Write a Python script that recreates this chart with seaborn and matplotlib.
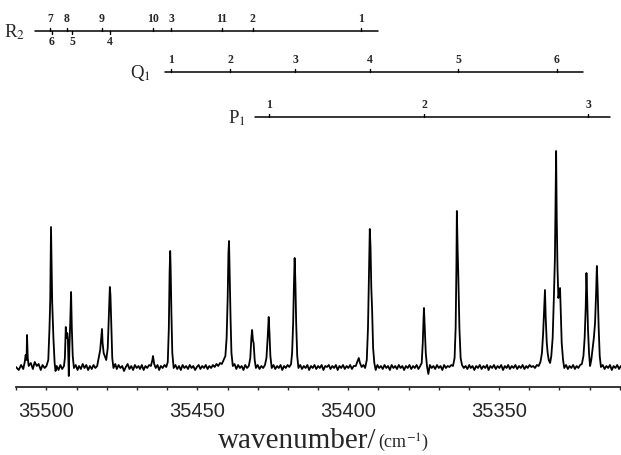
import matplotlib
matplotlib.use('Agg')
import matplotlib.pyplot as plt
from matplotlib.ticker import FixedLocator, MultipleLocator
import pandas as pd
import seaborn as sns

# spectrum trace (wavenumber / cm-1, signal in arbitrary units)
wn = [35510.1, 35509.2, 35508.4, 35507.7,
      35507.2, 35506.9, 35506.6, 35506.45, 35506.2, 35505.9,
      35505.2, 35504.5, 35503.9, 35503.2, 35502.6, 35501.9, 35501.3, 35500.6, 35500.0,
      35499.4, 35499.0, 35498.75, 35498.5, 35498.3, 35498.1, 35497.7, 35497.3, 35497.0,
      35496.6, 35496.0, 35495.4, 35494.8, 35494.2,
      35493.9, 35493.6, 35493.4, 35493.1, 35492.9, 35492.6, 35492.4, 35492.1, 35491.85, 35491.6, 35491.3, 35490.9,
      35490.3, 35489.7, 35489.2, 35488.6, 35488.0, 35487.4, 35486.8, 35486.2, 35485.6, 35485.0, 35484.4, 35483.8, 35483.2,
      35482.7, 35482.2, 35481.9, 35481.6, 35481.4, 35481.05, 35480.7, 35480.2, 35479.7, 35479.3, 35479.0, 35478.8, 35478.5, 35478.2, 35477.8,
      35477.2, 35476.7, 35476.1, 35475.5, 35474.9, 35474.3, 35473.7, 35473.1, 35472.5, 35471.9, 35471.3, 35470.7, 35470.1,
      35469.5, 35469.0, 35468.4, 35467.8, 35467.2, 35466.6, 35466.0, 35465.4, 35464.9, 35464.7, 35464.3,
      35463.8, 35463.2, 35462.65, 35462.1, 35461.5, 35460.9, 35460.3,
      35459.8, 35459.45, 35459.2, 35459.0, 35458.85, 35458.6, 35458.3, 35457.85,
      35457.25, 35456.66, 35456.07, 35455.48, 35454.89, 35454.3, 35453.7, 35453.11, 35452.52, 35451.93, 35451.34, 35450.75, 35450.16,
      35449.57, 35448.98, 35448.39, 35447.8, 35447.21, 35446.61, 35446.02, 35445.43, 35444.84, 35444.25, 35443.66, 35443.07, 35442.48,
      35441.89, 35441.3, 35440.71,
      35440.3, 35439.95, 35439.7, 35439.5, 35439.3, 35439.0, 35438.7, 35438.25,
      35437.67, 35437.08, 35436.49, 35435.9, 35435.31, 35434.72, 35434.13, 35433.54, 35432.95,
      35432.45, 35432.1, 35431.85, 35431.6, 35431.35, 35431.0, 35430.6,
      35430.0, 35429.4, 35428.8, 35428.2, 35427.6,
      35427.1, 35426.7, 35426.35, 35426.1, 35425.8, 35425.35,
      35424.76, 35424.18, 35423.6, 35423.01, 35422.43, 35421.85, 35421.27, 35420.69, 35420.1, 35419.52, 35418.94,
      35418.6, 35418.25, 35418.0, 35417.75, 35417.5, 35417.25, 35416.9, 35416.5,
      35415.9, 35415.31, 35414.72, 35414.13, 35413.54, 35412.95, 35412.36, 35411.77, 35411.18, 35410.59, 35410.0, 35409.41, 35408.81,
      35408.22, 35407.63, 35407.04, 35406.45, 35405.86, 35405.27, 35404.68, 35404.09, 35403.5, 35402.91, 35402.32, 35401.73, 35401.14,
      35400.54, 35399.95, 35399.36, 35398.77, 35398.18,
      35397.5, 35396.9, 35396.5, 35396.1, 35395.55, 35394.95, 35394.4,
      35393.85, 35393.45, 35393.1, 35392.85, 35392.6, 35392.35, 35392.1, 35391.75, 35391.35, 35390.9,
      35390.33, 35389.74, 35389.15, 35388.56, 35387.97, 35387.38, 35386.79, 35386.2, 35385.61, 35385.02, 35384.43, 35383.84, 35383.24,
      35382.65, 35382.06, 35381.47, 35380.88, 35380.29, 35379.7, 35379.11, 35378.52, 35377.93, 35377.34, 35376.74, 35376.15,
      35375.65, 35375.3, 35375.05, 35374.9, 35374.65, 35374.3, 35373.9, 35373.45,
      35372.95, 35372.36, 35371.77, 35371.18, 35370.59, 35370.0, 35369.41, 35368.81, 35368.22, 35367.63, 35367.04, 35366.45, 35365.86, 35365.27,
      35364.75, 35364.4, 35364.15, 35364.0, 35363.75, 35363.5, 35363.15, 35362.75, 35362.3,
      35361.7, 35361.1, 35360.5, 35359.9, 35359.4, 35358.8, 35358.2, 35357.6, 35357.0, 35356.4, 35355.8, 35355.2, 35354.6,
      35354.0, 35353.5, 35352.9, 35352.3, 35351.7, 35351.1, 35350.5, 35349.9, 35349.3, 35348.7, 35348.1, 35347.5, 35347.0,
      35346.4, 35345.8, 35345.2, 35344.6, 35344.0, 35343.4, 35342.8, 35342.2, 35341.6, 35341.0, 35340.5, 35339.9, 35339.3,
      35338.7, 35338.1, 35337.5, 35336.9, 35336.3,
      35335.8, 35335.4, 35335.05, 35334.8, 35334.55, 35334.2, 35333.9, 35333.55, 35333.1, 35332.7,
      35332.25, 35331.85, 35331.5, 35331.25, 35331.1, 35330.9, 35330.65, 35330.35, 35330.1, 35329.8, 35329.55, 35329.25, 35328.8, 35328.4,
      35327.8, 35327.22, 35326.64, 35326.06, 35325.47, 35324.89, 35324.31, 35323.73, 35323.15, 35322.57,
      35322.05, 35321.65, 35321.3, 35321.05, 35320.8, 35320.55, 35320.2, 35319.85,
      35319.45, 35319.0, 35318.6, 35318.2, 35317.85, 35317.6, 35317.35, 35317.0, 35316.65, 35316.25,
      35315.65, 35315.05, 35314.45, 35313.85, 35313.25, 35312.65, 35312.05, 35311.45, 35310.85, 35310.25, 35309.65]

sig = [1, -2, 3, -1,
       6, 13, 8, 33, 10, 2,
       5, -1, 6, 2, 4, -2, 3, 0, 2,
       8, 40, 68, 141, 100, 65, 30, 5, -3,
       2, -2, 3, -1, 2,
       10, 41, 30, 35, 28, -8, 20, 48, 76, 40, 12, 0,
       3, -2, 2, -1, 4, 0, 3, -2, 2, -1, 3, 0, 2,
       10, 18, 28, 39, 25, 15, 12, 8, 20, 55, 81, 73, 40, 10, 0,
       4, -1, 3, 0, 2, -3, 1, 4, -1, 2, -2, 3, 0,
       2, -1, 3, -2, 2, 0, 3, 2, 8, 12, 4,
       0, 3, -2, 2, 0, 3, 1,
       6, 40, 95, 117, 100, 55, 15, 0,
       3, -1, 2, -2, 3, 0, 2, -1, 3, 0, 2, -2, 1,
       3, -1, 2, 0, 3, -1, 2, 0, 3, 1, 4, 2, 5,
       4, 8, 12,
       30, 70, 115, 127, 95, 50, 15, 2,
       4, -1, 3, 0, 2, -2, 3, 0, 2,
       10, 30, 38, 28, 25, 8, 0,
       3, -1, 2, 0, 3,
       10, 30, 51, 35, 12, 0,
       3, -1, 2, 0, 3, -2, 2, 0, 3, 1, 4,
       15, 45, 82, 110, 85, 45, 12, 0,
       3, -1, 2, 0, 3, -2, 2, 0, 3, -1, 2, 0, 3,
       -2, 2, 1, 3, -1, 2, 0, 3, -2, 2, 0, 3, -1,
       2, 0, 3, -1, 2,
       2, 7, 10, 5, 1, 3, 0,
       8, 40, 100, 139, 120, 80, 60, 20, 5, -2,
       3, 0, 2, -1, 3, 0, 2, -2, 3, 0, 2, -1, 3,
       0, 2, -2, 2, 0, 3, -1, 2, 0, 3, -1, 2,
       5, 25, 48, 60, 40, 15, 2, -6,
       3, 0, 2, -1, 3, 0, 2, -2, 3, 0, 2, 1, 3, 2,
       10, 40, 100, 157, 120, 90, 40, 10, 3,
       0, 2, -1, 3, 0, 2, -2, 2, 0, 3, -1, 2, 0,
       3, -2, 2, 0, 3, -1, 2, 0, 3, -2, 2, 0, 3,
       -1, 2, 0, 3, -1, 2, 0, 3, -1, 2, 0, 3, 1,
       2, 0, 3, 2, 6,
       15, 35, 60, 78, 50, 25, 15, 8, 5, 12,
       30, 70, 110, 180, 217, 150, 100, 70, 75, 80, 55, 25, 8, 0,
       3, -1, 2, 0, 3, -1, 2, 0, 3, 4,
       12, 30, 60, 95, 70, 40, 15, 2,
       8, 20, 30, 45, 75, 102, 80, 40, 12, 1,
       3, -1, 2, 0, 3, -2, 2, 0, 3, -1, 2]

# assignment ladders: tick positions (cm-1) and their J labels
r2_up_pos = [35498.8, 35493.2, 35481.6, 35464.7, 35458.7, 35441.8, 35431.6, 35395.8]
r2_up_lab = ['7', '8', '9', '10', '3', '11', '2', '1']
r2_dn_pos = [35498.2, 35491.5, 35479.0]
r2_dn_lab = ['6', '5', '4']
q1_pos = [35458.7, 35439.2, 35417.6, 35392.8, 35363.6, 35330.8]
q1_lab = ['1', '2', '3', '4', '5', '6']
p1_pos = [35426.3, 35374.9, 35320.5]
p1_lab = ['1', '2', '3']
x_ticks = [35500, 35450, 35400, 35350]

sns.set_style('ticks')
plt.rcParams['font.family'] = ['Liberation Serif', 'DejaVu Serif']
plt.rcParams['mathtext.fontset'] = 'stix'

fig = plt.figure(figsize=(6.21, 4.55), dpi=100)
ax = fig.add_axes([16 / 621, 1 - 387 / 455, 605 / 621, 387 / 455])

df = pd.DataFrame({'wn': wn, 'sig': sig})
sns.lineplot(data=df, x='wn', y='sig', ax=ax, color='black', lw=1.3,
             estimator=None, sort=True)

ax.set_xlim(35510.1, 35309.6)
ax.set_ylim(-19, 368)
ax.xaxis.set_major_locator(FixedLocator(x_ticks))
ax.xaxis.set_minor_locator(MultipleLocator(10))
ax.tick_params(axis='x', which='both', direction='out', length=2.5, width=1,
               pad=8, labelsize=14.5)
for lab in ax.get_xticklabels():
    lab.set_fontfamily('Liberation Sans')
ax.set_yticks([])
ax.set_xlabel('')
ax.set_ylabel('')
for s in ['top', 'left', 'right']:
    ax.spines[s].set_visible(False)
ax.spines['bottom'].set_linewidth(1.3)


def ladder(y, x0, x1, name, name_x, up_pos, up_lab, dn_pos=(), dn_lab=()):
    ax.plot([x0, x1], [y, y], color='black', lw=1.1, clip_on=False)
    for p, l in zip(up_pos, up_lab):
        ax.plot([p, p], [y, y + 3], color='black', lw=1.0, clip_on=False)
        ax.text(p, y + 6, l, ha='center', va='bottom', fontsize=8.5,
                fontweight='bold', clip_on=False)
    for p, l in zip(dn_pos, dn_lab):
        ax.plot([p, p], [y, y - 3], color='black', lw=1.0, clip_on=False)
        ax.text(p, y - 5, l, ha='center', va='top', fontsize=8.5,
                fontweight='bold', clip_on=False)
    ax.text(name_x, y - 1, name, ha='right', va='center', fontsize=13.5, clip_on=False)


ladder(337, 35503.8, 35390.1, r'R$_2$', 35507.0, r2_up_pos, r2_up_lab, r2_dn_pos, r2_dn_lab)
ladder(296, 35460.7, 35322.2, r'Q$_1$', 35465.5, q1_pos, q1_lab)
ladder(251, 35430.9, 35313.2, r'P$_1$', 35434.0, p1_pos, p1_lab)

fig.text(376 / 621, 1 - 448 / 455, 'wavenumber/', ha='right', va='baseline', fontsize=21)
fig.text(378 / 621, 1 - 448 / 455, '(cm$^{-1}$)', ha='left', va='baseline', fontsize=13)

plt.savefig('out.png', dpi=100)
plt.close()
